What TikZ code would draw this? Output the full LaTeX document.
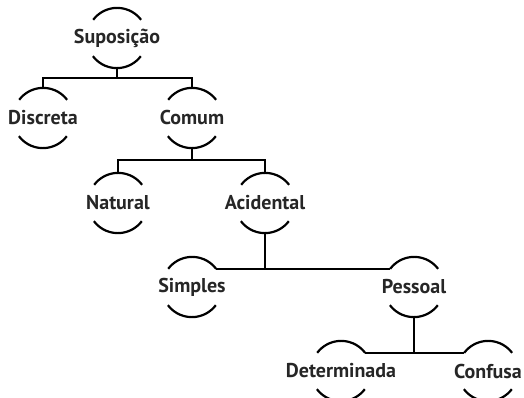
\documentclass[tikz,border=0pt]{standalone}
\usepackage{fontspec}
\setmainfont{PT Sans}

\begin{document}
\begin{tikzpicture}[x=1pt,y=1pt,
  termo/.style={circle,minimum size=60pt,inner sep=0pt,
    label={[font=\bfseries\fontsize{20}{22}\selectfont,text=black!85]center:#1}},
  arco/.style={line width=2.2pt},
  liga/.style={line width=2.6pt}]
\useasboundingbox (0,0) rectangle (524,-398);
% termos
\node[termo=Suposição] (sup) at (117,-38) {};
\node[termo=Discreta] (dis) at (43,-118) {};
\node[termo=Comum] (com) at (192,-118) {};
\node[termo=Natural] (nat) at (118,-203) {};
\node[termo=Acidental] (aci) at (265,-203) {};
\node[termo=Simples] (sim) at (192,-287) {};
\node[termo=Pessoal] (pes) at (414,-287) {};
\node[termo=Determinada] (det) at (341,-371) {};
\node[termo=Confusa] (con) at (488,-371) {};
\foreach \n in {sup,dis,com,nat,aci,sim,pes,det,con}
  \draw[arco] (\n.37) arc (37:143:30pt) (\n.217) arc (217:323:30pt);
% ligacoes
\draw[liga] (sup.south) -- ++(0,-10) -| (dis.north);
\draw[liga] (sup.south) -- ++(0,-10) -| (com.north);
\draw[liga] (com.south) -- ++(0,-12) -| (nat.north);
\draw[liga] (com.south) -- ++(0,-12) -| (aci.north);
\draw[liga] (aci.south) |- (sim.37);
\draw[liga] (aci.south) |- (pes.143);
\draw[liga] (pes.south) |- (det.37);
\draw[liga] (pes.south) |- (con.143);
\end{tikzpicture}
\end{document}
